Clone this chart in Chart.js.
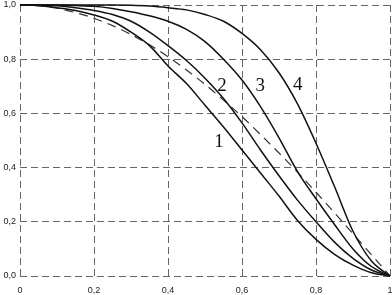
<!DOCTYPE html>
<html>
<head>
<meta charset="utf-8">
<script src="https://cdn.jsdelivr.net/npm/chart.js@4.4.0/dist/chart.umd.min.js"></script>
<style>
  html, body { margin: 0; padding: 0; background: #fff; }
  #wrap { width: 392px; height: 295px; }
</style>
</head>
<body>
<div id="wrap"><canvas id="chart"></canvas></div>
<script>
const xs = [0, 0.05, 0.1, 0.15, 0.2, 0.25, 0.3, 0.35, 0.4, 0.45, 0.5, 0.55, 0.6, 0.65, 0.7, 0.75, 0.8, 0.85, 0.9, 0.95, 1];

// solid curves 1..4 and the dashed one
const curve1 = [1, 0.998, 0.99, 0.98, 0.963, 0.94, 0.9, 0.85, 0.775, 0.71, 0.63, 0.55, 0.465, 0.38, 0.295, 0.205, 0.135, 0.08, 0.04, 0.012, 0];
const curve2 = [1, 1, 0.997, 0.99, 0.98, 0.965, 0.94, 0.9, 0.85, 0.795, 0.73, 0.655, 0.565, 0.465, 0.37, 0.28, 0.2, 0.125, 0.065, 0.022, 0];
const curve3 = [1, 1, 1, 0.998, 0.995, 0.987, 0.975, 0.96, 0.94, 0.91, 0.865, 0.8, 0.723, 0.625, 0.51, 0.385, 0.285, 0.19, 0.1, 0.035, 0];
const curve4 = [1, 1, 1, 1, 1, 1, 0.999, 0.996, 0.99, 0.982, 0.965, 0.94, 0.895, 0.835, 0.75, 0.635, 0.49, 0.33, 0.165, 0.055, 0];
const dashed = [1, 0.997, 0.988, 0.972, 0.951, 0.924, 0.891, 0.853, 0.809, 0.76, 0.707, 0.649, 0.588, 0.522, 0.454, 0.383, 0.309, 0.233, 0.156, 0.078, 0];

const xTickLabels = ['0', '0,2', '0,4', '0,6', '0,8', '1'];
const yTickLabels = ['0,0', '0,2', '0,4', '0,6', '0,8', '1,0'];

// curve numbers written on the plot
const curveNames = ['1', '2', '3', '4'];
const nameX = [0.538, 0.546, 0.649, 0.751];
const nameY = [0.495, 0.7, 0.7, 0.705];

function pts(ys) {
    return xs.map((x, i) => ({ x: x, y: ys[i] }));
}

function solid(ys) {
    return {
        data: pts(ys),
        borderColor: '#111',
        borderWidth: 1.5,
        pointRadius: 0,
        cubicInterpolationMode: 'monotone',
        fill: false,
        clip: false
    };
}

const whiteBg = {
    id: 'whiteBg',
    beforeDraw(chart) {
        const c = chart.ctx;
        c.save();
        c.fillStyle = '#fff';
        c.fillRect(0, 0, chart.width, chart.height);
        c.restore();
    }
};

const curveLabels = {
    id: 'curveLabels',
    afterDatasetsDraw(chart) {
        const c = chart.ctx;
        const sx = chart.scales.x, sy = chart.scales.y;
        c.save();
        c.fillStyle = '#111';
        c.font = '19px "Liberation Serif", "DejaVu Serif", serif';
        c.textAlign = 'center';
        c.textBaseline = 'middle';
        curveNames.forEach((t, i) => {
            c.fillText(t, sx.getPixelForValue(nameX[i]), sy.getPixelForValue(nameY[i]));
        });
        c.restore();
    }
};

const gridStyle = {
    color: '#666',
    lineWidth: 1,
    tickLength: 0,
    drawTicks: false
};

const tickFont = { family: '"Liberation Sans", Arial, sans-serif', size: 9 };

new Chart(document.getElementById('chart'), {
    type: 'line',
    data: {
        datasets: [
            solid(curve1),
            solid(curve2),
            solid(curve3),
            solid(curve4),
            {
                data: pts(dashed),
                borderColor: '#333',
                borderWidth: 1.2,
                borderDash: [9, 6],
                pointRadius: 0,
                cubicInterpolationMode: 'monotone',
                fill: false,
                clip: false
            }
        ]
    },
    options: {
        responsive: true,
        maintainAspectRatio: false,
        animation: false,
        layout: { padding: { top: 5, right: 2, left: 0, bottom: 0 } },
        plugins: {
            legend: { display: false },
            tooltip: { enabled: false }
        },
        scales: {
            x: {
                type: 'linear',
                min: 0, max: 1,
                border: { display: false, dash: [7, 4] },
                grid: gridStyle,
                ticks: {
                    stepSize: 0.2,
                    padding: 9,
                    color: '#222',
                    font: tickFont,
                    maxRotation: 0,
                    callback: (v, i) => xTickLabels[i]
                },
                afterFit(scale) {
                    scale.height = 19;
                    scale.paddingLeft = 0;
                    scale.paddingRight = 0;
                }
            },
            y: {
                min: 0, max: 1,
                border: { display: false, dash: [7, 4] },
                grid: gridStyle,
                ticks: {
                    stepSize: 0.2,
                    padding: 4,
                    color: '#222',
                    font: tickFont,
                    callback: (v, i) => yTickLabels[i]
                },
                afterFit(scale) {
                    scale.width = 20;
                    scale.paddingTop = 0;
                    scale.paddingBottom = 0;
                }
            }
        }
    },
    plugins: [whiteBg, curveLabels]
});
</script>
</body>
</html>
